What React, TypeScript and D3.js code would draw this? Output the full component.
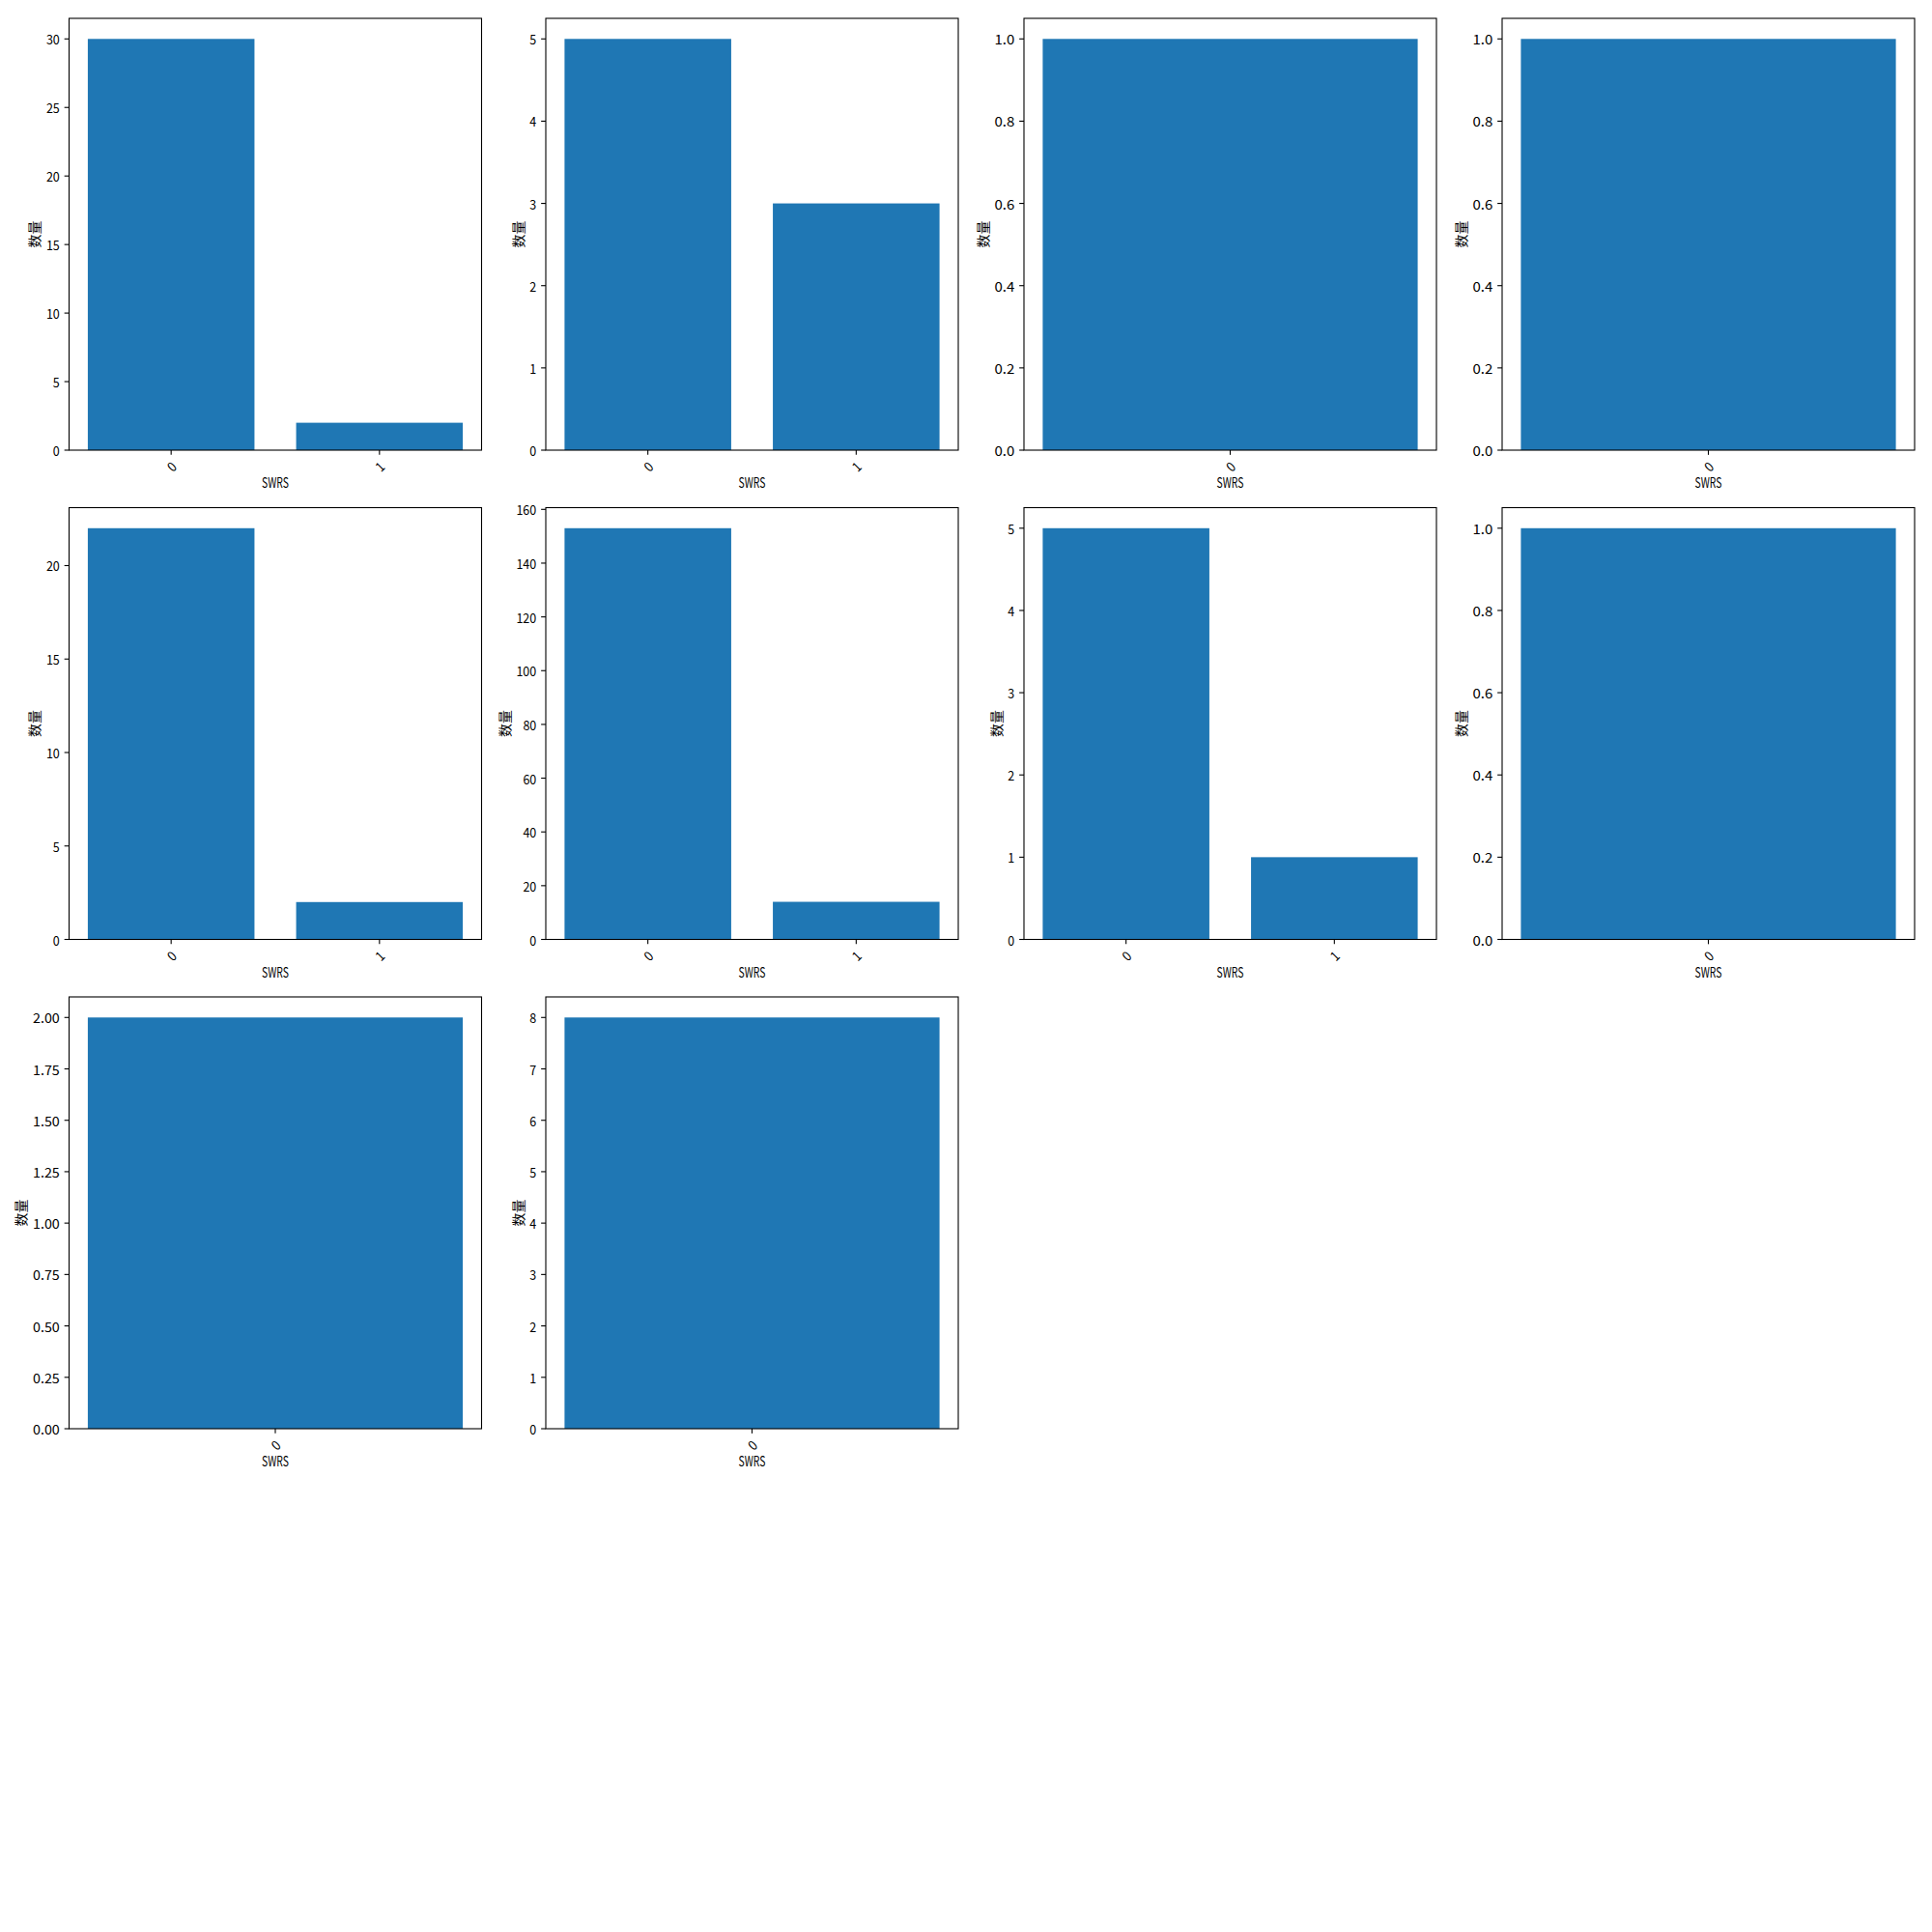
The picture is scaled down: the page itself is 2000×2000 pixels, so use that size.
import React from "react";
import * as d3 from "d3";

// ---- data ----
const categories2 = ["0", "1"];
const categories1 = ["0"];

const panelCategories: string[][] = [
  categories2, categories2, categories1, categories1,
  categories2, categories2, categories2, categories1,
  categories1, categories1,
];

const panelValues: number[][] = [
  [30, 2], [5, 3], [1], [1],
  [22, 2], [153, 14], [5, 1], [1],
  [2], [8],
];

const panelTicks: number[][] = [
  [0, 5, 10, 15, 20, 25, 30],
  [0, 1, 2, 3, 4, 5],
  [0, 0.2, 0.4, 0.6, 0.8, 1.0],
  [0, 0.2, 0.4, 0.6, 0.8, 1.0],
  [0, 5, 10, 15, 20],
  [0, 20, 40, 60, 80, 100, 120, 140, 160],
  [0, 1, 2, 3, 4, 5],
  [0, 0.2, 0.4, 0.6, 0.8, 1.0],
  [0, 0.25, 0.5, 0.75, 1.0, 1.25, 1.5, 1.75, 2.0],
  [0, 1, 2, 3, 4, 5, 6, 7, 8],
];

const panelTickDecimals: number[] = [0, 0, 1, 1, 0, 0, 0, 1, 2, 0];

const xLabel = "SWRS";
const yLabel = "数量";

// ---- layout ----
const W = 2000;
const H = 2000;
const colLefts = [71.5, 565, 1060, 1555];
const rowTops = [19, 525.5, 1032];
const axW = 427;
const axH = 447;
const FS = 13.9;
const CH = FS / 2; // half-width char advance
const BAR = "#1f77b4";
const TICK_LEN = 4.86;
const PAD = 4.86;
const MONO = "'Noto Sans CJK SC', 'DejaVu Sans', sans-serif";

function Tx({ x, y, s, anchor, transform, baseline }: any) {
  return (
    <text
      x={x}
      y={y}
      fontSize={FS}
      fontFamily={MONO}
      textAnchor={anchor}
      dominantBaseline={baseline}
      transform={transform}
      textLength={s.length * CH}
      lengthAdjust="spacingAndGlyphs"
      fill="#000"
    >
      {s}
    </text>
  );
}

function Panel({ idx }: { idx: number }) {
  const row = Math.floor(idx / 4);
  const col = idx % 4;
  const left = colLefts[col];
  const top = rowTops[row];
  const cats = panelCategories[idx];
  const vals = panelValues[idx];
  const n = cats.length;
  const xmin0 = -0.4;
  const xmax0 = n - 1 + 0.4;
  const m = (xmax0 - xmin0) * 0.05;
  const x = d3.scaleLinear().domain([xmin0 - m, xmax0 + m]).range([left, left + axW]);
  const ymax = (d3.max(vals) as number) * 1.05;
  const y = d3.scaleLinear().domain([0, ymax]).range([top + axH, top]);
  const ticks = panelTicks[idx];
  const dec = panelTickDecimals[idx];
  const fmt = d3.format(`.${dec}f`);
  const labels = ticks.map((t) => fmt(t));
  const maxChars = d3.max(labels, (l) => l.length) as number;
  const yLabelX = left - TICK_LEN - PAD - maxChars * CH - 5.56 - FS / 2;
  const bottom = top + axH;
  return (
    <g>
      {vals.map((v, i) => (
        <rect
          key={i}
          x={x(i - 0.4)}
          y={y(v)}
          width={x(i + 0.4) - x(i - 0.4)}
          height={y(0) - y(v)}
          fill={BAR}
        />
      ))}
      <rect x={left} y={top} width={axW} height={axH} fill="none" stroke="#000" strokeWidth={1.1} />
      {ticks.map((t, i) => (
        <g key={i}>
          <line x1={left} x2={left - TICK_LEN} y1={y(t)} y2={y(t)} stroke="#000" strokeWidth={1.1} />
          <Tx x={left - TICK_LEN - PAD} y={y(t)} s={labels[i]} anchor="end" baseline="central" />
        </g>
      ))}
      {cats.map((c, i) => (
        <g key={c}>
          <line x1={x(i)} x2={x(i)} y1={bottom} y2={bottom + TICK_LEN} stroke="#000" strokeWidth={1.1} />
          <Tx
            x={0}
            y={0}
            s={c}
            anchor="middle"
            baseline="central"
            transform={`translate(${x(i)},${bottom + 16.5}) rotate(-45)`}
          />
        </g>
      ))}
      <Tx x={left + axW / 2} y={bottom + 33} s={xLabel} anchor="middle" baseline="central" />
      <text
        x={0}
        y={0}
        fontSize={FS}
        fontFamily="'Noto Sans CJK SC', sans-serif"
        textAnchor="middle"
        dominantBaseline="central"
        transform={`translate(${yLabelX},${top + axH / 2}) rotate(-90)`}
        fill="#000"
      >
        {yLabel}
      </text>
    </g>
  );
}

export default function App() {
  return (
    <svg width={W} height={H} style={{ display: "block", position: "absolute", left: 0, top: 0 }}>
      <rect x={0} y={0} width={W} height={H} fill="#fff" />
      {panelValues.map((_, i) => (
        <Panel key={i} idx={i} />
      ))}
    </svg>
  );
}
